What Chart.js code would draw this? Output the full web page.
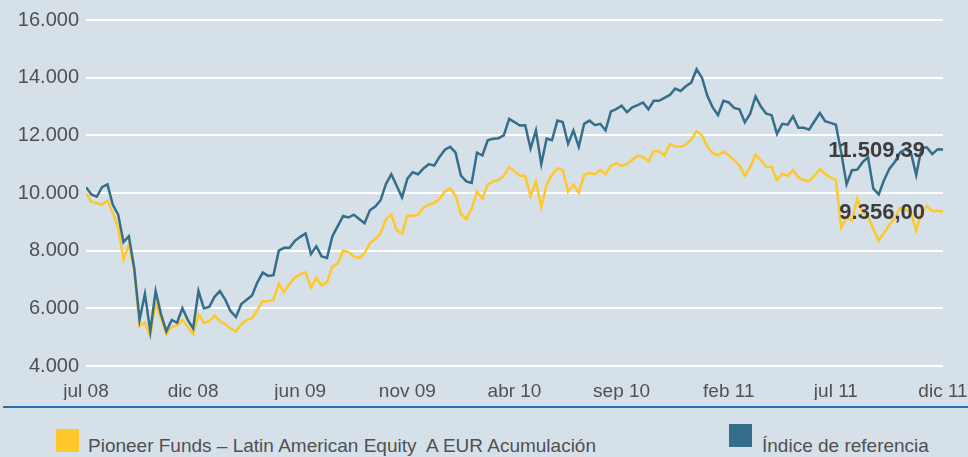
<!DOCTYPE html>
<html>
<head>
<meta charset="utf-8">
<script src="https://cdn.jsdelivr.net/npm/chart.js@4.4.0/dist/chart.umd.min.js"></script>
<style>
  body { margin: 0; background: #d6e0e8; }
  #wrap {
    position: relative;
    width: 968px;
    height: 457px;
    background: #d6e0e8;
    font-family: "Liberation Sans", Arial, sans-serif;
    overflow: hidden;
  }
  canvas { position: absolute; left: 0; top: 0; }
  .rule { position: absolute; left: 3px; right: 0; top: 406px; height: 2px; background: #2a6fad; }
  .box { position: absolute; width: 23px; height: 23px; }
  .txt { position: absolute; font-size: 19px; line-height: 23px; color: #505050; white-space: pre; }
</style>
</head>
<body>
<div id="wrap">
  <canvas id="chart" width="968" height="400"></canvas>
  <div class="rule"></div>
  <div id="legend"></div>
</div>
<script>
// x tick labels, evenly spaced along the series
const tickLabels = ['jul 08', 'dic 08', 'jun 09', 'nov 09', 'abr 10', 'sep 10', 'feb 11', 'jul 11', 'dic 11'];

const seriesNames = ['Pioneer Funds \u2013 Latin American Equity  A EUR Acumulaci\u00f3n', '\u00cdndice de referencia'];
const seriesColors = ['#ffc82a', '#346e8a'];

// Pioneer Funds - Latin American Equity A EUR (base 10.000)
const fund = [
  10000, 9700, 9650, 9600, 9750, 9300, 8800, 7700, 8200, 7300,
  5400, 5500, 5050, 6200, 5650, 5100, 5350, 5400, 5600, 5350,
  5100, 5800, 5500, 5550, 5750, 5550, 5450, 5300, 5200, 5450,
  5600, 5650, 5950, 6250, 6250, 6300, 6850, 6550, 6850, 7070,
  7180, 7250, 6720, 7050, 6800, 6900, 7450, 7550, 8000, 7950,
  7800, 7750, 7900, 8260, 8400, 8600, 9100, 9250, 8700, 8600,
  9210, 9200, 9250, 9500, 9600, 9650, 9800, 10050, 10150, 9900,
  9270, 9100, 9450, 10050, 9800, 10300, 10400, 10450, 10600, 10900,
  10750, 10600, 10600, 9890, 10400, 9500, 10300, 10630, 10850, 10800,
  10050, 10300, 10000, 10630, 10690, 10650, 10800, 10650, 10940, 11030,
  10950, 11000, 11150, 11300, 11250, 11100, 11450, 11450, 11300, 11700,
  11600, 11600, 11680, 11850, 12150, 12000, 11600, 11390, 11300, 11430,
  11310, 11140, 10950, 10600, 10900, 11330, 11130, 10920, 10900, 10450,
  10660, 10600, 10790, 10540, 10450, 10400, 10600, 10830, 10660, 10540,
  10450, 8800, 9150, 9040, 9800, 9300, 9200, 8750, 8350, 8620,
  8900, 9120, 9490, 9430, 9320, 8700, 9340, 9550, 9380, 9380,
  9356.00
];

// Indice de referencia (base 10.000)
const index = [
  10200, 9950, 9870, 10200, 10300, 9600, 9250, 8300, 8500, 7400,
  5600, 6500, 5200, 6600, 5800, 5200, 5600, 5500, 6000, 5600,
  5300, 6600, 6000, 6050, 6400, 6600, 6300, 5900, 5700, 6150,
  6300, 6450, 6900, 7240, 7125, 7150, 8000, 8100, 8100, 8340,
  8480, 8600, 7880, 8150, 7800, 7750, 8500, 8850, 9200, 9150,
  9250, 9100, 8950, 9400, 9530, 9750, 10315, 10650, 10250, 9850,
  10500, 10720, 10650, 10850, 11000, 10950, 11250, 11500, 11600, 11400,
  10600, 10400, 10350, 11400, 11300, 11830, 11880, 11900, 12000, 12570,
  12460, 12340, 12350, 11540, 12170, 11000, 11890, 11830, 12510, 12460,
  11710, 12170, 11600, 12400, 12510, 12350, 12400, 12170, 12830, 12910,
  13030, 12800, 12970, 13050, 13140, 12900, 13200, 13200, 13300, 13400,
  13620, 13540, 13700, 13830, 14290, 14000, 13370, 12970, 12700, 13200,
  13140, 12950, 12900, 12450, 12750, 13350, 13000, 12750, 12700, 12050,
  12400, 12370, 12660, 12260, 12260, 12200, 12490, 12770, 12490, 12430,
  12370, 11400, 10300, 10790, 10810, 11070, 11240, 10150, 9950, 10450,
  10840, 11070, 11410, 11520, 11410, 10620, 11580, 11580, 11350, 11520,
  11509.39
];

function fmtThousands(v) {
  return String(Math.round(v)).replace(/\B(?=(\d{3})+(?!\d))/g, '.');
}
function fmtValue(v) {
  const parts = v.toFixed(2).split('.');
  return fmtThousands(Number(parts[0])) + ',' + parts[1];
}

// legend below the chart
const legend = document.getElementById('legend');
const legendPos = [{ box: 56, boxTop: 429, text: 88 }, { box: 729, boxTop: 424, text: 762 }];
seriesNames.forEach((name, i) => {
  const b = document.createElement('div');
  b.className = 'box';
  b.style.left = legendPos[i].box + 'px';
  b.style.top = legendPos[i].boxTop + 'px';
  b.style.background = seriesColors[i];
  legend.appendChild(b);
  const t = document.createElement('div');
  t.className = 'txt';
  t.style.left = legendPos[i].text + 'px';
  t.style.top = '434px';
  t.textContent = name;
  legend.appendChild(t);
});

// last value printed next to the end of each line
const endLabels = {
  id: 'endLabels',
  afterDatasetsDraw(chart) {
    const ctx = chart.ctx;
    ctx.save();
    ctx.font = 'bold 22px "Liberation Sans", Arial, sans-serif';
    ctx.fillStyle = '#3c3c3c';
    ctx.textAlign = 'right';
    ctx.textBaseline = 'middle';
    chart.data.datasets.forEach((ds, i) => {
      const pts = chart.getDatasetMeta(i).data;
      const last = pts[pts.length - 1];
      ctx.fillText(fmtValue(ds.data[ds.data.length - 1].y), last.x - 18, last.y + 1);
    });
    ctx.restore();
  }
};

Chart.defaults.font.family = '"Liberation Sans", Arial, sans-serif';
Chart.defaults.font.size = 20;
Chart.defaults.color = '#505050';

const step = (fund.length - 1) / (tickLabels.length - 1);

new Chart(document.getElementById('chart'), {
  type: 'line',
  data: {
    datasets: [
      {
        label: seriesNames[0],
        data: fund.map((v, i) => ({ x: i, y: v })),
        borderColor: seriesColors[0],
        borderWidth: 2.5,
        pointRadius: 0,
        tension: 0,
        order: 2
      },
      {
        label: seriesNames[1],
        data: index.map((v, i) => ({ x: i, y: v })),
        borderColor: seriesColors[1],
        borderWidth: 2.5,
        pointRadius: 0,
        tension: 0,
        order: 1
      }
    ]
  },
  options: {
    responsive: false,
    animation: false,
    layout: { padding: { top: 20, right: 25, left: 0, bottom: 0 } },
    plugins: { legend: { display: false }, tooltip: { enabled: false } },
    scales: {
      x: {
        type: 'linear',
        min: 0,
        max: fund.length - 1,
        grid: { display: false, drawTicks: false },
        border: { display: false },
        ticks: {
          stepSize: step,
          autoSkip: false,
          maxRotation: 0,
          padding: 14,
          font: { size: 19 },
          callback: (v) => tickLabels[Math.round(v / step)]
        },
        afterFit: (s) => { s.height = 34; s.paddingLeft = 0; s.paddingRight = 0; }
      },
      y: {
        min: 4000,
        max: 16000,
        grid: { color: '#ffffff', lineWidth: 2, drawTicks: false },
        border: { display: false },
        ticks: { stepSize: 2000, padding: 7, callback: (v) => fmtThousands(v) },
        afterFit: (s) => { s.width = 86; s.paddingTop = 0; s.paddingBottom = 0; }
      }
    }
  },
  plugins: [endLabels]
});
</script>
</body>
</html>
